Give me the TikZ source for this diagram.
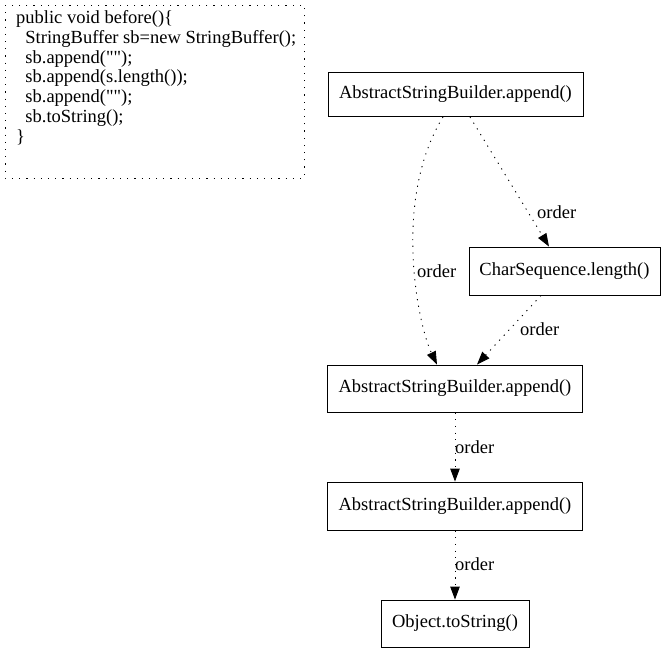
\documentclass[tikz,border=0pt]{standalone}
\usepackage{fontspec}
\setmainfont{Liberation Serif}[Ligatures=TeXOff]
\usetikzlibrary{arrows.meta,calc}
\begin{document}
\begin{tikzpicture}[x=1pt,y=-1pt,
  every node/.style={font=\fontsize{18.5}{19.9}\selectfont},
  method/.style={draw,line width=0.9pt,inner sep=0pt,anchor=center},
  flow/.style={line width=0.9pt,dash pattern=on 1.2pt off 5.5pt,
    -{Triangle[length=13pt,width=9.5pt]}},
  lbl/.style={anchor=west,inner sep=0pt}]
\useasboundingbox (0,0) rectangle (665,653);

% code snippet
\draw[line width=0.9pt,dash pattern=on 1.2pt off 6pt] (5,5) rectangle (304,178);
\node[anchor=north west,align=left,inner sep=0pt] (code) at (16,10)
  {public void before()\{\\
  \ \ StringBuffer sb=new StringBuffer();\\
  \ \ sb.append("");\\
  \ \ sb.append(s.length());\\
  \ \ sb.append("");\\
  \ \ sb.toString();\\
  \}};

% call nodes
\node[method,minimum width=255pt,minimum height=44pt] (a1) at (455.5,94.5) {AbstractStringBuilder.append()};
\node[method,minimum width=191pt,minimum height=48pt] (len) at (564.5,271) {CharSequence.length()};
\node[method,minimum width=255pt,minimum height=47pt] (a2) at (455,388.5) {AbstractStringBuilder.append()};
\node[method,minimum width=255pt,minimum height=48pt] (a3) at (455,506) {AbstractStringBuilder.append()};
\node[method,minimum width=148pt,minimum height=47pt] (str) at (455,623.5) {Object.toString()};

% ordering edges
\draw[flow] ($(a1.south)+(-12.5,0)$) .. controls (392,200) and (418,325) .. ($(a2.north)+(-18,0)$);
\node[lbl] (l1) at (417,271) {order};
\draw[flow] ($(a1.south)+(14.5,0)$) -- ($(len.north)+(-15.5,0)$);
\node[lbl] (l2) at (537,212) {order};
\draw[flow] ($(len.south)+(-23.5,0)$) -- ($(a2.north)+(22,0)$);
\node[lbl] (l3) at (520,329) {order};
\draw[flow] (a2.south) -- (a3.north);
\node[lbl] (l4) at (455,447) {order};
\draw[flow] (a3.south) -- (str.north);
\node[lbl] (l5) at (455,564) {order};
\end{tikzpicture}
\end{document}
